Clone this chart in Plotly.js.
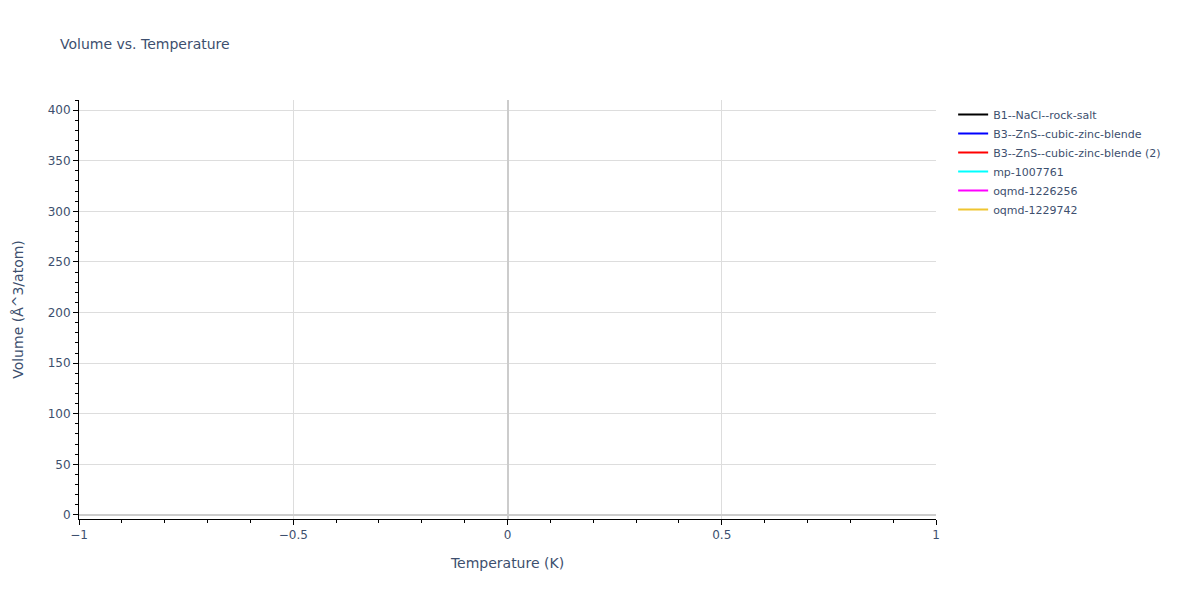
<!DOCTYPE html>
<html>
<head>
<meta charset="utf-8">
<script src="https://cdn.plot.ly/plotly-3.0.1.min.js"></script>
</head>
<body style="margin:0">
<div id="chart1" style="width:1200px;height:600px;"></div>
<script>
// series names and colours; the source chart shows no readable points
names = ['B1--NaCl--rock-salt', 'B3--ZnS--cubic-zinc-blende', 'B3--ZnS--cubic-zinc-blende (2)', 'mp-1007761', 'oqmd-1226256', 'oqmd-1229742'];
colors = ['black', 'blue', 'red', 'cyan', 'magenta', '#efc531'];
temperature = [[null], [null], [null], [null], [null], [null]];
volume = [[null], [null], [null], [null], [null], [null]];

chart1 = document.getElementById('chart1');

traces = names.map(function (n, i) {
  return {
    x: temperature[i],
    y: volume[i],
    name: n,
    type: 'scatter',
    mode: 'lines',
    showlegend: true,
    line: {color: colors[i], width: 2}
  };
});

axisStyle = {
  showline: true,
  linecolor: 'black',
  linewidth: 1,
  ticks: 'outside',
  tickcolor: 'black',
  gridcolor: '#dddddd',
  zerolinecolor: '#cccccc',
  zerolinewidth: 2
};

Plotly.newPlot(chart1, traces, {
  title: {text: 'Volume vs. Temperature', x: 0.05, y: 0.934, font: {size: 14}},
  font: {family: 'Verdana, DejaVu Sans, sans-serif', size: 12, color: '#3d4f6e'},
  plot_bgcolor: 'white',
  paper_bgcolor: 'white',
  margin: {l: 79, r: 264, t: 100, b: 81},
  showlegend: true,
  legend: {x: 1.02, y: 1, font: {size: 11}},
  xaxis: Object.assign({}, axisStyle, {
    title: {text: 'Temperature (K)', standoff: 16},
    range: [-1, 1],
    dtick: 0.5,
    minor: {ticks: 'outside', tickcolor: 'black', ticklen: 3, dtick: 0.1, showgrid: false}
  }),
  yaxis: Object.assign({}, axisStyle, {
    title: {text: 'Volume (Å^3/atom)', standoff: 20},
    range: [-4, 410],
    dtick: 50,
    minor: {ticks: 'outside', tickcolor: 'black', ticklen: 3, dtick: 10, showgrid: false}
  })
}, {displayModeBar: false});
</script>
</body>
</html>
